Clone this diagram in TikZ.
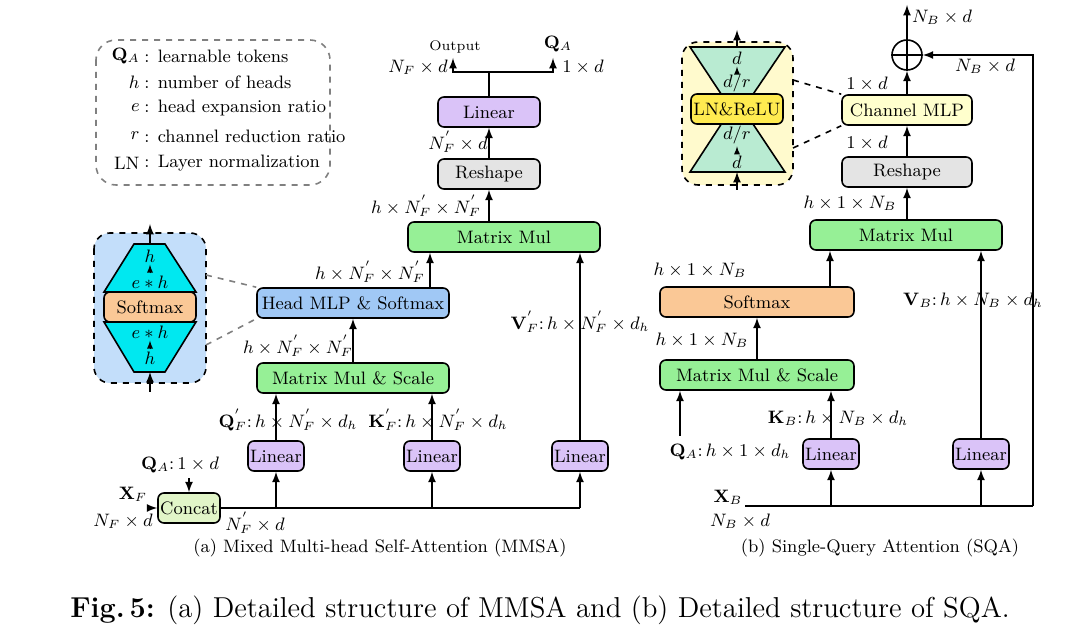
\documentclass[tikz,border=0pt]{standalone}
\usepackage{amsmath,amssymb}
\usetikzlibrary{calc,backgrounds}
\definecolor{cLin}{RGB}{218,195,248}
\definecolor{cGray}{RGB}{228,228,228}
\definecolor{cMat}{RGB}{150,240,150}
\definecolor{cHead}{RGB}{160,200,245}
\definecolor{cSoft}{RGB}{250,200,150}
\definecolor{cCat}{RGB}{225,245,200}
\definecolor{cChan}{RGB}{255,255,205}
\definecolor{cInL}{RGB}{195,222,250}
\definecolor{cCyan}{RGB}{0,232,240}
\definecolor{cInR}{RGB}{255,250,205}
\definecolor{cTeal}{RGB}{185,235,210}
\definecolor{cLN}{RGB}{255,235,80}
\tikzset{>=latex}
\tikzset{
  blk/.style={draw, thick, rounded corners=3pt, minimum height=15pt, inner sep=1pt, font=\small},
  lab/.style={font=\small, inner sep=1pt},
  inset/.style={draw, dashed, thick, rounded corners=8pt}
}
\begin{document}
\begin{tikzpicture}[x=0.5pt,y=-0.5pt]
  \useasboundingbox (0,0) rectangle (1080,640);
  % legend
  \draw[gray, dashed, thick, rounded corners=10pt] (96,40) rectangle (330,185);
  \node[lab, anchor=east] at (142,56) {$\mathbf{Q}_A$};
  \node[lab, anchor=west] at (142,56) {: learnable tokens};
  \node[lab, anchor=east] at (142,82) {$h$};
  \node[lab, anchor=west] at (142,82) {: number of heads};
  \node[lab, anchor=east] at (142,108) {$e$};
  \node[lab, anchor=west] at (142,108) {: head expansion ratio};
  \node[lab, anchor=east] at (142,136) {$r$};
  \node[lab, anchor=west] at (142,136) {: channel reduction ratio};
  \node[lab, anchor=east] at (142,163) {LN};
  \node[lab, anchor=west] at (142,163) {: Layer normalization};
  % left blocks
  \node[blk, fill=cLin, minimum width=51pt] (linO) at (489,112) {Linear};
  \node[blk, fill=cGray, minimum width=51pt] (resA) at (489,174) {Reshape};
  \node[blk, fill=cMat, minimum width=96pt] (mmA) at (504,237) {Matrix Mul};
  \node[blk, fill=cHead, minimum width=96pt] (head) at (353,303) {Head MLP \& Softmax};
  \node[blk, fill=cMat, minimum width=96pt] (mmsA) at (353,378) {Matrix Mul \& Scale};
  \node[blk, fill=cLin, minimum width=28pt] (linQ) at (276,456) {Linear};
  \node[blk, fill=cLin, minimum width=28pt] (linK) at (432,456) {Linear};
  \node[blk, fill=cLin, minimum width=28pt] (linV) at (580,456) {Linear};
  \node[blk, fill=cCat, minimum width=31pt] (cat) at (189,508) {Concat};
  % left connectors
  \coordinate (splitA) at (489,72);
  \coordinate (outA) at (453,58);
  \coordinate (qaOut) at (553,58);
  \draw[thick] (linO.north) -- (splitA);
  \draw[thick,->] (splitA) -| (outA);
  \draw[thick,->] (splitA) -| (qaOut);
  \draw[thick,->] (resA) -- (linO);
  \draw[thick,->] (resA.north |- mmA.north) -- (resA.south);
  \draw[thick,->] (head.north -| 430,0) -- (mmA.south -| 430,0);
  \draw[thick,->] (mmsA.north) -- (head.south);
  \draw[thick,->] (linQ.north) -- (mmsA.south -| linQ.north);
  \draw[thick,->] (linK.north) -- (mmsA.south -| linK.north);
  \draw[thick,->] (linV.north) -- (mmA.south -| linV.north);
  \coordinate (xf) at (150,508);
  \coordinate (qa) at (189,478);
  \coordinate (busA) at (580,508);
  \draw[thick,->] (xf) -- (cat.west);
  \draw[thick,->] (qa) -- (cat.north);
  \draw[thick] (cat.east) -- (busA);
  \draw[thick,->] (cat.east -| linQ.south) -- (linQ.south);
  \draw[thick,->] (cat.east -| linK.south) -- (linK.south);
  \draw[thick,->] (busA) -- (linV.south);
  % left labels
  \node[lab, font=\scriptsize] at (455,47) {Output};
  \node[lab] at (418,67) {$N_F\times d$};
  \node[lab] at (558,44) {$\mathbf{Q}_A$};
  \node[lab] at (583,67) {$1\times d$};
  \node[lab] at (458,142) {$N_F^{'}\times d$};
  \node[lab] at (426,206) {$h\times N_F^{'}\times N_F^{'}$};
  \node[lab] at (370,272) {$h\times N_F^{'}\times N_F^{'}$};
  \node[lab] at (298,346) {$h\times N_F^{'}\times N_F^{'}$};
  \node[lab] at (288,420) {$\mathbf{Q}_F^{'}{:}\,h\times N_F^{'}\times d_h$};
  \node[lab] at (438,420) {$\mathbf{K}_F^{'}{:}\,h\times N_F^{'}\times d_h$};
  \node[lab] at (580,322) {$\mathbf{V}_F^{'}{:}\,h\times N_F^{'}\times d_h$};
  \node[lab] at (180,465) {$\mathbf{Q}_A{:}\,1\times d$};
  \node[lab] at (133,494) {$\mathbf{X}_F$};
  \node[lab] at (123,521) {$N_F\times d$};
  \node[lab] at (255,523) {$N_F^{'}\times d$};
  % left inset
  \draw[inset, fill=cInL] (94,233) rectangle (206,383);
  \draw[thick, fill=cCyan] (134,244) -- (165,244) -- (196,292) -- (104,292) -- cycle;
  \draw[thick, fill=cCyan] (104,322) -- (196,322) -- (165,372) -- (134,372) -- cycle;
  \node[blk, fill=cSoft, minimum width=46pt, minimum height=15pt] (softI) at (150,307) {Softmax};
  \node[lab] (hT) at (150,256) {$h$};
  \node[lab] (ehT) at (150,282) {$e*h$};
  \node[lab] (ehB) at (150,332) {$e*h$};
  \node[lab] (hB) at (150,358) {$h$};
  \draw[->] (ehT.north) -- (hT.south);
  \draw[->] (hB.north) -- (ehB.south);
  \coordinate (inLt) at (150,224);
  \coordinate (inLb) at (150,392);
  \draw[thick,->] (150,244) -- (inLt);
  \draw[thick,->] (inLb) -- (150,372);
  \draw[gray, dashed, thick] (206,275) -- (head.north west);
  \draw[gray, dashed, thick] (206,345) -- (head.south west);
  % right blocks
  \node[blk, fill=cChan, minimum width=65pt] (chan) at (907,110) {Channel MLP};
  \node[blk, fill=cGray, minimum width=65pt] (resB) at (907,172) {Reshape};
  \node[blk, fill=cMat, minimum width=96pt] (mmB) at (906,235) {Matrix Mul};
  \node[blk, fill=cSoft, minimum width=97pt] (soft) at (757,302) {Softmax};
  \node[blk, fill=cMat, minimum width=97pt] (mmsB) at (757,375) {Matrix Mul \& Scale};
  \node[blk, fill=cLin, minimum width=28pt] (linKB) at (831,454) {Linear};
  \node[blk, fill=cLin, minimum width=28pt] (linVB) at (981,454) {Linear};
  \node[draw, thick, circle, minimum size=15pt, inner sep=0pt] (add) at (907,55) {};
  \draw[thick] (add.north) -- (add.south) (add.west) -- (add.east);
  % right connectors
  \coordinate (outB) at (907,5);
  \coordinate (busB) at (1033,506);
  \coordinate (xb) at (745,506);
  \coordinate (qaB) at (680,436);
  \draw[thick,->] (add.north) -- (outB);
  \draw[thick,->] (chan.north) -- (add.south);
  \draw[thick,->] (resB) -- (chan);
  \draw[thick,->] (resB.north |- mmB.north) -- (resB.south);
  \draw[thick,->] (soft.north -| 830,0) -- (mmB.south -| 830,0);
  \draw[thick,->] (mmsB.north) -- (soft.south);
  \draw[thick,->] (qaB) -- (mmsB.south -| qaB);
  \draw[thick,->] (linKB.north) -- (mmsB.south -| linKB.north);
  \draw[thick,->] (linVB.north) -- (mmB.south -| linVB.north);
  \draw[thick] (xb) -- (busB);
  \draw[thick,->] (busB) |- (add.east);
  \draw[thick,->] (xb -| linKB.south) -- (linKB.south);
  \draw[thick,->] (xb -| linVB.south) -- (linVB.south);
  % right labels
  \node[lab] at (942,17) {$N_B\times d$};
  \node[lab] at (985,66) {$N_B\times d$};
  \node[lab] at (867,84) {$1\times d$};
  \node[lab] at (867,143) {$1\times d$};
  \node[lab] at (850,203) {$h\times 1\times N_B$};
  \node[lab] at (700,270) {$h\times 1\times N_B$};
  \node[lab] at (702,340) {$h\times 1\times N_B$};
  \node[lab] at (973,300) {$\mathbf{V}_B{:}\,h\times N_B\times d_h$};
  \node[lab] at (838,418) {$\mathbf{K}_B{:}\,h\times N_B\times d_h$};
  \node[lab] at (730,452) {$\mathbf{Q}_A{:}\,h\times 1\times d_h$};
  \node[lab] at (728,497) {$\mathbf{X}_B$};
  \node[lab] at (740,521) {$N_B\times d$};
  % right inset
  \draw[inset, fill=cInR] (682,42) rectangle (793,185);
  \draw[thick, fill=cTeal] (690,47) -- (785,47) -- (737,118) -- cycle;
  \draw[thick, fill=cTeal] (690,172) -- (785,172) -- (737,100) -- cycle;
  \node[blk, fill=cLN, minimum width=46pt, minimum height=15pt] (lnr) at (737,109) {LN\&ReLU};
  \node[lab] (dT) at (737,58) {$d$};
  \node[lab] (drT) at (737,83) {$d/r$};
  \node[lab] (drB) at (737,135) {$d/r$};
  \node[lab] (dB) at (737,162) {$d$};
  \draw[->] (drT.north) -- (dT.south);
  \draw[->] (dB.north) -- (drB.south);
  \coordinate (inRt) at (737,30);
  \coordinate (inRb) at (737,190);
  \draw[thick,->] (737,47) -- (inRt);
  \draw[thick,->] (inRb) -- (737,172);
  \draw[dashed, thick] (793,80) -- (chan.north west);
  \draw[dashed, thick] (793,148) -- (chan.south west);
  % captions
  \node[lab] at (380,548) {(a) Mixed Multi-head Self-Attention (MMSA)};
  \node[lab] at (880,548) {(b) Single-Query Attention (SQA)};
  \node[font=\Large] at (540,610) {\textbf{Fig.\,5:} (a) Detailed structure of MMSA and (b) Detailed structure of SQA.};
\end{tikzpicture}
\end{document}
